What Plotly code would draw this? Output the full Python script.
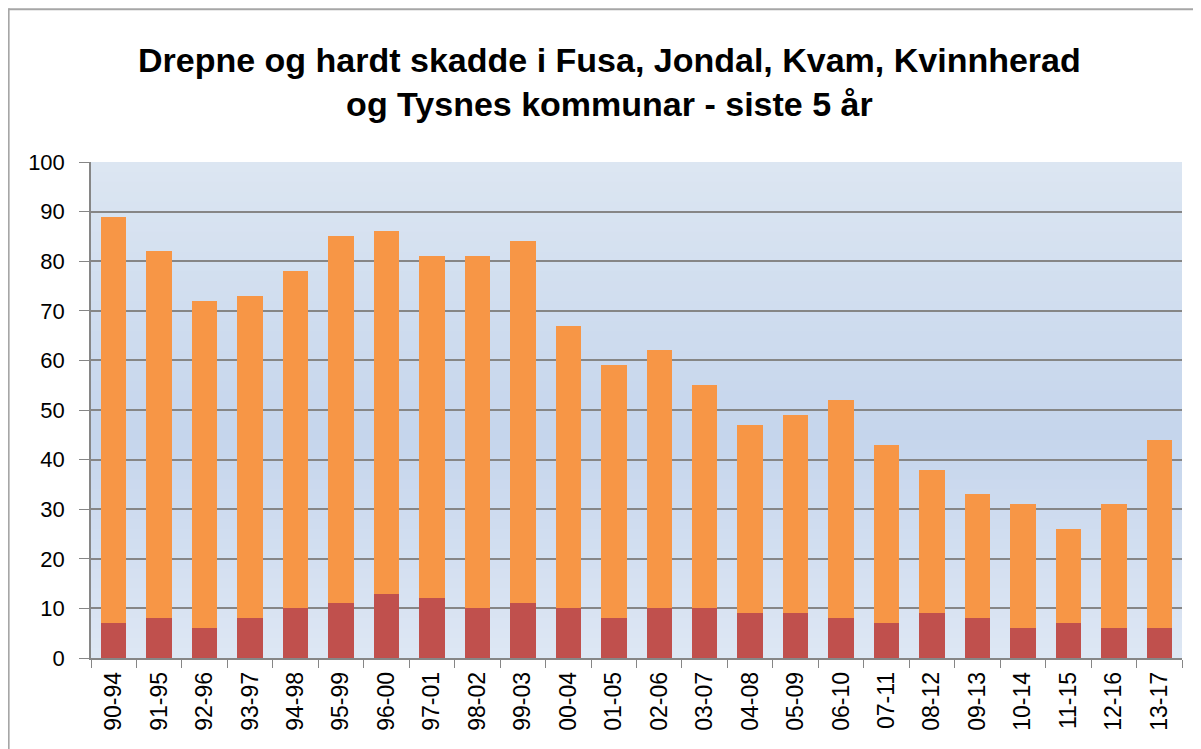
import plotly.graph_objects as go

categories = ["90-94", "91-95", "92-96", "93-97", "94-98", "95-99", "96-00", "97-01",
              "98-02", "99-03", "00-04", "01-05", "02-06", "03-07", "04-08", "05-09",
              "06-10", "07-11", "08-12", "09-13", "10-14", "11-15", "12-16", "13-17"]
drepne = [7, 8, 6, 8, 10, 11, 13, 12, 10, 11, 10, 8, 10, 10, 9, 9, 8, 7, 9, 8, 6, 7, 6, 6]
totalt = [89, 82, 72, 73, 78, 85, 86, 81, 81, 84, 67, 59, 62, 55, 47, 49, 52, 43, 38, 33, 31, 26, 31, 44]
hardt_skadde = [t - d for t, d in zip(totalt, drepne)]
y_ticks = [0, 10, 20, 30, 40, 50, 60, 70, 80, 90, 100]

title = "<b>Drepne og hardt skadde i Fusa, Jondal, Kvam, Kvinnherad<br>og Tysnes kommunar - siste 5 år</b>"

fig = go.Figure()
fig.add_trace(go.Bar(x=categories, y=drepne, name="Drepne",
                     marker=dict(color="#c0504d", line=dict(width=0))))
fig.add_trace(go.Bar(x=categories, y=hardt_skadde, name="Hardt skadde",
                     marker=dict(color="#f79646", line=dict(width=0))))

# gradient background of plot area
def lerp(c1, c2, t):
    return tuple(round(a + (b - a) * t) for a, b in zip(c1, c2))

top = (220, 230, 242)
mid = (197, 213, 236)
bot = (222, 231, 244)
n = 50
shapes = []
for i in range(n):
    y0 = 100 * i / n
    y1 = min(100, 100 * (i + 1) / n + 0.5)
    yc = 100 * (i + 0.5) / n
    if yc >= 45:
        c = lerp(mid, top, (yc - 45) / 55)
    else:
        c = lerp(bot, mid, yc / 45)
    shapes.append(dict(type="rect", xref="paper", yref="y", x0=0, x1=1, y0=y0, y1=y1,
                       fillcolor="rgb(%d,%d,%d)" % c, line=dict(width=0), layer="below"))

# outer chart frame (left and top)
shapes.append(dict(type="line", xref="paper", yref="paper", x0=-0.0755, x1=-0.0755, y0=-0.2, y1=1.31,
                   line=dict(color="#a6a6a6", width=2), layer="above"))
shapes.append(dict(type="line", xref="paper", yref="paper", x0=-0.0755, x1=1.02, y0=1.308, y1=1.308,
                   line=dict(color="#a6a6a6", width=2), layer="above"))

fig.update_layout(
    width=1193, height=741,
    barmode="stack", bargap=0.44,
    showlegend=False,
    paper_bgcolor="white",
    plot_bgcolor="rgba(0,0,0,0)",
    margin=dict(l=83, r=19, t=154, b=91, pad=0),
    font=dict(family="Liberation Sans, Arial, sans-serif", color="#000000"),
    shapes=shapes,
    annotations=[dict(text=title, xref="paper", yref="paper", x=0.4757, y=1.161,
                      xanchor="center", yanchor="middle", showarrow=False,
                      font=dict(family="Liberation Sans, Arial, sans-serif", size=34, color="#000000"))],
)
fig.update_yaxes(range=[0, 100], tickvals=y_ticks, showgrid=True, gridcolor="#868686", gridwidth=1.5,
                 showline=True, linecolor="#868686", linewidth=1.5, ticks="outside", ticklen=10,
                 tickcolor="#868686", tickfont=dict(size=22, color="#000000"), zeroline=False,
                 ticklabelstandoff=10)
fig.update_xaxes(type="category", showline=True, linecolor="#868686", linewidth=1.5, ticks="outside",
                 ticklen=8, tickcolor="#868686", tickson="boundaries", tickangle=-90,
                 tickfont=dict(size=23, color="#000000"), showgrid=False, ticklabelstandoff=3)

fig.write_html("out.html")
